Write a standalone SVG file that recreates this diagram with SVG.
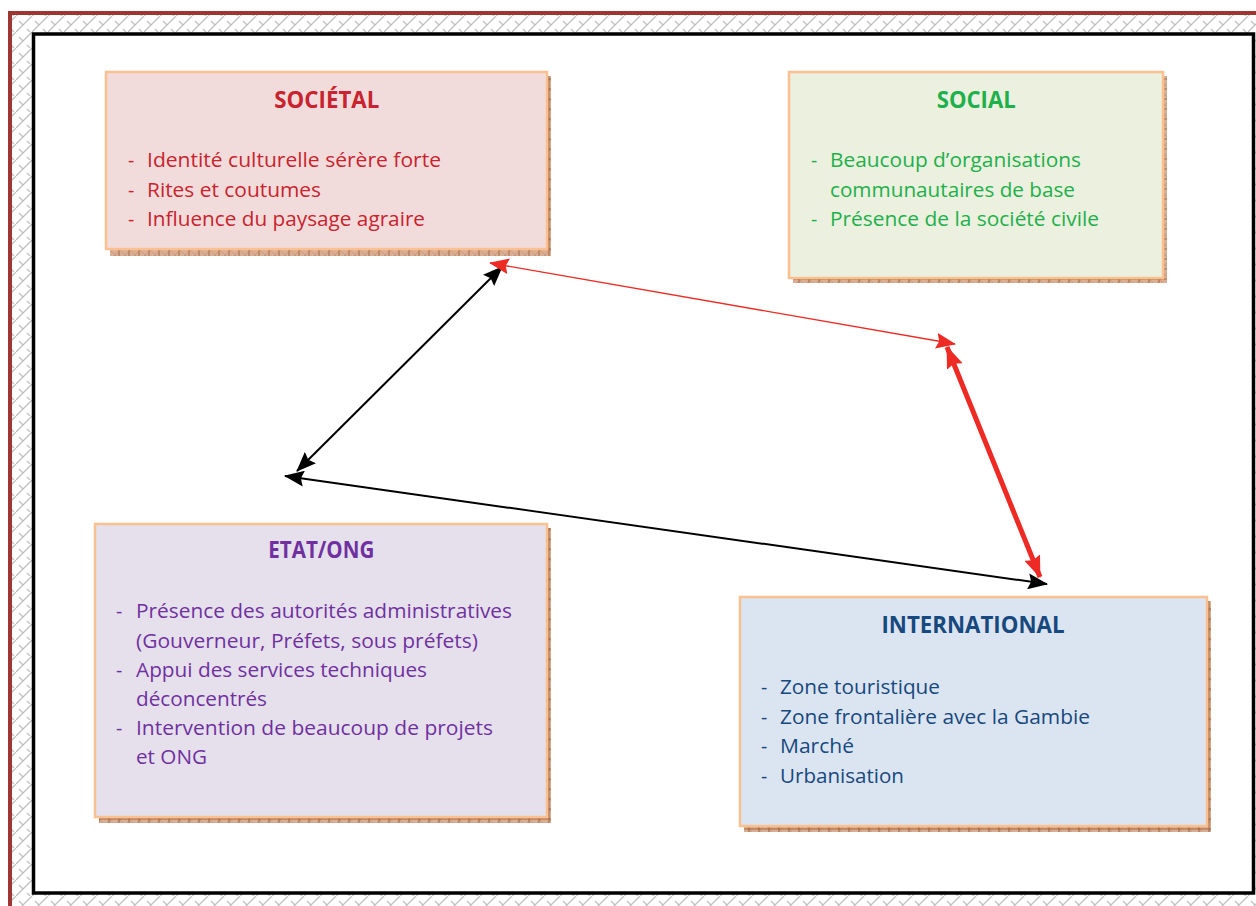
<svg xmlns="http://www.w3.org/2000/svg" width="1256" height="906" viewBox="0 0 1256 906">
<style>
.box{stroke:#FAC090;stroke-width:2.5}
.t{font-family:"Open Sans","Noto Sans","Liberation Sans",sans-serif;font-size:19.5px}
.h{font-family:"Open Sans","Noto Sans","Liberation Sans",sans-serif;font-size:23px;font-weight:bold;text-anchor:middle}
.red{fill:#C8232E}.grn{fill:#1DB04B}.pur{fill:#7030A0}.blu{fill:#17487E}
.conn{fill:none}
</style>
<defs>
<pattern id="hatch" width="16" height="16" patternUnits="userSpaceOnUse">
<rect width="16" height="16" fill="#fff"/>
<path d="M0 16 L10 6 M10 6 L16 0 M3 5 L7 9 M11 13 L14 16" stroke="#c0c0c0" stroke-width="1.3" fill="none"/>
</pattern>
<pattern id="shad" width="10" height="10" patternUnits="userSpaceOnUse">
<rect width="10" height="10" fill="#D9AE92"/>
<path d="M0 0 L10 10 M10 0 L0 10" stroke="#C4977A" stroke-width="0.8"/>
<path d="M9 0 V10 M0 9 H10" stroke="#A8683F" stroke-width="1"/>
</pattern>
<marker id="ab" viewBox="0 0 20 16" refX="19" refY="8" markerWidth="20" markerHeight="16" markerUnits="userSpaceOnUse" orient="auto-start-reverse"><path d="M0 0 L20 8 L0 16 L3 8 Z" fill="#000"/></marker>
<marker id="ar" viewBox="0 0 20 16" refX="19" refY="8" markerWidth="20" markerHeight="16" markerUnits="userSpaceOnUse" orient="auto-start-reverse"><path d="M0 0 L20 8 L0 16 L3 8 Z" fill="#EE2A24"/></marker>
<marker id="arb" viewBox="0 0 22 17" refX="21" refY="8.5" markerWidth="22" markerHeight="17" markerUnits="userSpaceOnUse" orient="auto-start-reverse"><path d="M0 0 L22 8.5 L0 17 L3 8.5 Z" fill="#EE2A24"/></marker>
</defs>

<g id="frame">
<rect x="0" y="0" width="1256" height="906" fill="#fff"/>
<rect x="12" y="15" width="1244" height="891" fill="url(#hatch)"/>
<rect x="8" y="11" width="1248" height="4" fill="#9E3632"/>
<rect x="8" y="11" width="4" height="895" fill="#9E3632"/>
<rect x="33.5" y="34" width="1220" height="859" fill="#fff" stroke="#000" stroke-width="3.5"/>
</g>

<g id="societal">
<rect x="110" y="76" width="441" height="180" fill="url(#shad)"/>
<rect class="box" x="106" y="72" width="441" height="177" fill="#F2DCDB"/>
<text class="h red" x="326.8" y="108" textLength="105" lengthAdjust="spacingAndGlyphs">SOCIÉTAL</text>
<text class="t red" x="128" y="167">-</text>
<text class="t red" x="147" y="167" textLength="294" lengthAdjust="spacingAndGlyphs">Identité culturelle sérère forte</text>
<text class="t red" x="128" y="196.5">-</text>
<text class="t red" x="147" y="196.5" textLength="174" lengthAdjust="spacingAndGlyphs">Rites et coutumes</text>
<text class="t red" x="128" y="226">-</text>
<text class="t red" x="147" y="226" textLength="278" lengthAdjust="spacingAndGlyphs">Influence du paysage agraire</text>
</g>

<g id="social">
<rect x="793" y="76" width="374" height="207" fill="url(#shad)"/>
<rect class="box" x="789" y="72" width="374" height="206" fill="#EBF1DE"/>
<text class="h grn" x="976.2" y="108" textLength="79" lengthAdjust="spacingAndGlyphs">SOCIAL</text>
<text class="t grn" x="811" y="167">-</text>
<text class="t grn" x="830" y="167" textLength="251" lengthAdjust="spacingAndGlyphs">Beaucoup d’organisations</text>
<text class="t grn" x="830" y="196.5" textLength="245" lengthAdjust="spacingAndGlyphs">communautaires de base</text>
<text class="t grn" x="811" y="226">-</text>
<text class="t grn" x="830" y="226" textLength="269" lengthAdjust="spacingAndGlyphs">Présence de la société civile</text>
</g>

<g id="etat-ong">
<rect x="99" y="528" width="452" height="295" fill="url(#shad)"/>
<rect class="box" x="95" y="524" width="452" height="293" fill="#E5E0EC"/>
<text class="h pur" x="321.3" y="558" textLength="106" lengthAdjust="spacingAndGlyphs">ETAT/ONG</text>
<text class="t pur" x="116" y="618">-</text>
<text class="t pur" x="136" y="618" textLength="376" lengthAdjust="spacingAndGlyphs">Présence des autorités administratives</text>
<text class="t pur" x="136" y="647.5" textLength="342" lengthAdjust="spacingAndGlyphs">(Gouverneur, Préfets, sous préfets)</text>
<text class="t pur" x="116" y="677">-</text>
<text class="t pur" x="136" y="677" textLength="291" lengthAdjust="spacingAndGlyphs">Appui des services techniques</text>
<text class="t pur" x="136" y="706" textLength="131" lengthAdjust="spacingAndGlyphs">déconcentrés</text>
<text class="t pur" x="116" y="735">-</text>
<text class="t pur" x="136" y="735" textLength="357" lengthAdjust="spacingAndGlyphs">Intervention de beaucoup de projets</text>
<text class="t pur" x="136" y="764" textLength="71" lengthAdjust="spacingAndGlyphs">et ONG</text>
</g>

<g id="international">
<rect x="744" y="601" width="467" height="231" fill="url(#shad)"/>
<rect class="box" x="740" y="597" width="467" height="229" fill="#DBE5F1"/>
<text class="h blu" x="973" y="633" textLength="183" lengthAdjust="spacingAndGlyphs">INTERNATIONAL</text>
<text class="t blu" x="761" y="694">-</text>
<text class="t blu" x="780" y="694" textLength="160" lengthAdjust="spacingAndGlyphs">Zone touristique</text>
<text class="t blu" x="761" y="723.5">-</text>
<text class="t blu" x="780" y="723.5" textLength="310" lengthAdjust="spacingAndGlyphs">Zone frontalière avec la Gambie</text>
<text class="t blu" x="761" y="753">-</text>
<text class="t blu" x="780" y="753" textLength="74" lengthAdjust="spacingAndGlyphs">Marché</text>
<text class="t blu" x="761" y="782.5">-</text>
<text class="t blu" x="780" y="782.5" textLength="124" lengthAdjust="spacingAndGlyphs">Urbanisation</text>
</g>

<g id="connectors" class="conn">
<line x1="502" y1="267" x2="297" y2="471" stroke="#000" stroke-width="2" marker-start="url(#ab)" marker-end="url(#ab)"/>
<line x1="285" y1="476" x2="1047" y2="584" stroke="#000" stroke-width="2" marker-start="url(#ab)" marker-end="url(#ab)"/>
<line x1="490" y1="263" x2="955" y2="344" stroke="#EE2A24" stroke-width="1.3" marker-start="url(#ar)" marker-end="url(#ar)"/>
<line x1="947" y1="347" x2="1040" y2="577" stroke="#EE2A24" stroke-width="5" marker-start="url(#arb)" marker-end="url(#arb)"/>
</g>
</svg>
